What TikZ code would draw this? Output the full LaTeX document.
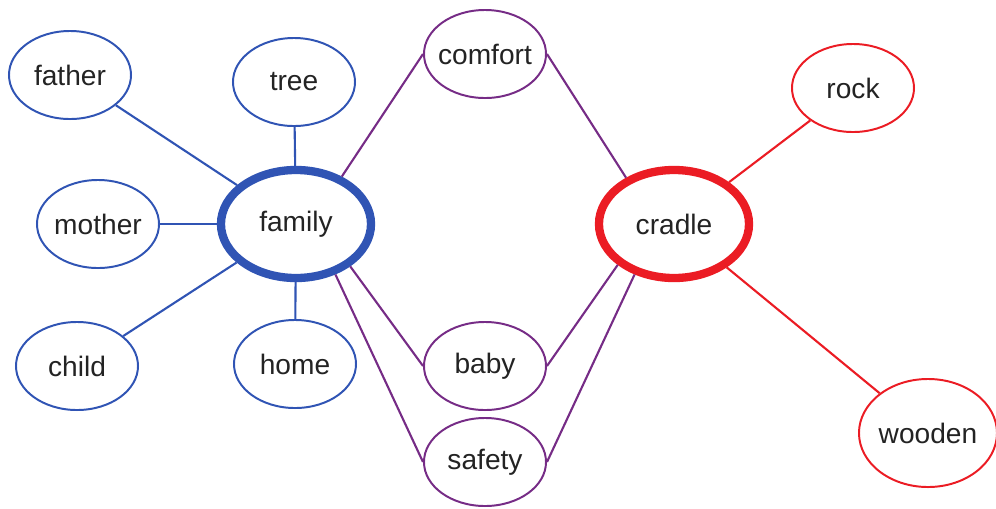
\documentclass[tikz,border=0pt]{standalone}
\usepackage{fontspec}
\setmainfont{Liberation Sans}
\usetikzlibrary{shapes.geometric}
\definecolor{famblue}{RGB}{48, 84, 180}
\definecolor{linkpurple}{RGB}{118, 44, 134}
\definecolor{cradlered}{RGB}{235, 28, 36}
\definecolor{wordgray}{RGB}{35, 35, 35}

\begin{document}
\begin{tikzpicture}[x=0.025cm, y=-0.025cm,
  word/.style={ellipse, draw, line width=1.4pt, inner xsep=-10pt, inner ysep=0pt,
    minimum width=3.05cm, minimum height=2.2cm, text=wordgray,
    font=\fontsize{20}{23}\selectfont},
  hub/.style={word, line width=5.9pt, minimum width=3.75cm, minimum height=2.7cm},
  link/.style={line width=1.5pt}]
  \useasboundingbox (0,0) rectangle (996,508);

  % Family cluster
  \node[hub, draw=famblue] (family) at (296, 224) {family};
  \node[word, draw=famblue] (father) at (70, 75) {father};
  \node[word, draw=famblue] (tree) at (294, 82) {tree};
  \node[word, draw=famblue] (mother) at (98, 224) {mother};
  \node[word, draw=famblue] (child) at (77, 366) {child};
  \node[word, draw=famblue] (home) at (295, 364) {home};

  % Shared words
  \node[word, draw=linkpurple] (comfort) at (485, 54) {comfort};
  \node[word, draw=linkpurple] (baby) at (485, 366) {baby};
  \node[word, draw=linkpurple] (safety) at (485, 462) {safety};

  % Cradle cluster
  \node[hub, draw=cradlered] (cradle) at (674, 224) {cradle};
  \node[word, draw=cradlered] (rock) at (853, 88) {rock};
  \node[word, draw=cradlered, minimum width=3.45cm, minimum height=2.7cm] (wooden) at (928, 433) {wooden};

  % Links
  \foreach \w in {father, tree, mother, child, home}
    \draw[link, famblue] (family) -- (\w);
  \draw[link, linkpurple] (family.46) -- (comfort.west);
  \draw[link, linkpurple] (family.-38) -- (baby.west);
  \draw[link, linkpurple] (family.-52) -- (safety.west);
  \draw[link, linkpurple] (cradle.136) -- (comfort.east);
  \draw[link, linkpurple] (cradle.-144) -- (baby.east);
  \draw[link, linkpurple] (cradle.-128) -- (safety.east);
  \draw[link, cradlered] (cradle) -- (rock);
  \draw[link, cradlered] (cradle) -- (wooden);
\end{tikzpicture}
\end{document}
